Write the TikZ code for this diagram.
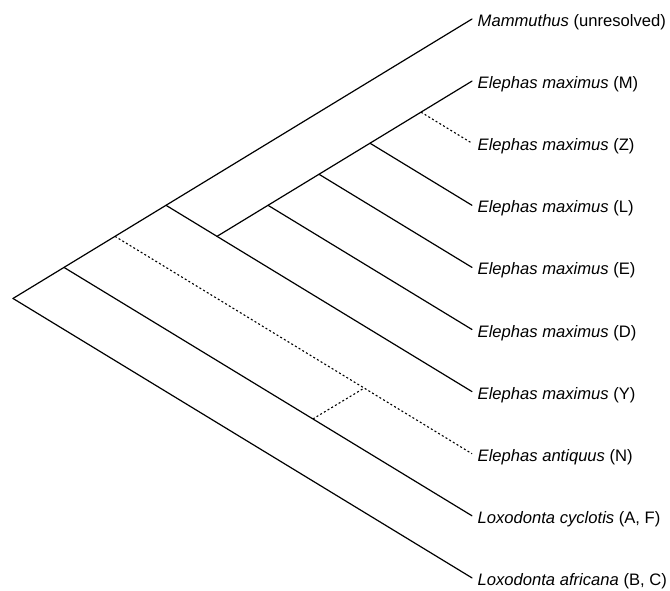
\documentclass[tikz,border=0pt]{standalone}
\usepackage{fontspec}
\setmainfont{Liberation Sans}
\usetikzlibrary{calc}
\begin{document}
\begin{tikzpicture}[x=1pt,y=-1pt,
  br/.style={line width=1.2pt, line cap=round},
  dbr/.style={line width=1.1pt, dash pattern=on 2pt off 2.3pt},
  lab/.style={anchor=base west, inner sep=0pt, font=\fontsize{16.6}{18}\selectfont}]
\useasboundingbox (0,0) rectangle (670,590);
% tips
\coordinate (t0) at (472,19);
\coordinate (t1) at (472,81.1);
\coordinate (t2) at (472,143.2);
\coordinate (t3) at (472,205.3);
\coordinate (t4) at (472,267.4);
\coordinate (t5) at (472,329.5);
\coordinate (t6) at (472,391.6);
\coordinate (t7) at (472,453.7);
\coordinate (t8) at (472,515.8);
\coordinate (t9) at (472,577.9);
% internal nodes
\coordinate (root) at (13,298.45);
\coordinate (n64) at (64,267.4);
\coordinate (n116) at (115,236.35);
\coordinate (n166) at (166,205.3);
\coordinate (n217) at (217,236.35);
\coordinate (n268) at (268,205.3);
\coordinate (n319) at (319,174.25);
\coordinate (n370) at (370,143.2);
\coordinate (n421) at (421,112.15);
\coordinate (c1) at ($(n64)!0.61!(t8)$);
\coordinate (c2) at ($(n116)!0.698!(t7)$);
% branches
\draw[br] (root) -- (n64) -- (n116) -- (n166) -- (t0);
\draw[br] (root) -- (t9);
\draw[br] (n64) -- (t8);
\draw[dbr] (n116) -- (t7);
\draw[br] (n166) -- (n217) -- (t6);
\draw[br] (n217) -- (n268) -- (n319) -- (n370) -- (n421) -- (t1);
\draw[br] (n268) -- (t5);
\draw[br] (n319) -- (t4);
\draw[br] (n370) -- (t3);
\draw[dbr] (n421) -- (t2);
\draw[dbr] (c1) -- (c2);
% labels
\node[lab] (l0) at ([shift={(5.5,7.5)}]t0) {\textit{Mammuthus} (unresolved)};
\node[lab] (l1) at ([shift={(5.5,7.5)}]t1) {\textit{Elephas maximus} (M)};
\node[lab] (l2) at ([shift={(5.5,7.5)}]t2) {\textit{Elephas maximus} (Z)};
\node[lab] (l3) at ([shift={(5.5,7.5)}]t3) {\textit{Elephas maximus} (L)};
\node[lab] (l4) at ([shift={(5.5,7.5)}]t4) {\textit{Elephas maximus} (E)};
\node[lab] (l5) at ([shift={(5.5,7.5)}]t5) {\textit{Elephas maximus} (D)};
\node[lab] (l6) at ([shift={(5.5,7.5)}]t6) {\textit{Elephas maximus} (Y)};
\node[lab] (l7) at ([shift={(5.5,7.5)}]t7) {\textit{Elephas antiquus} (N)};
\node[lab] (l8) at ([shift={(5.5,7.5)}]t8) {\textit{Loxodonta cyclotis} (A, F)};
\node[lab] (l9) at ([shift={(5.5,7.5)}]t9) {\textit{Loxodonta africana} (B, C)};
\end{tikzpicture}
\end{document}
